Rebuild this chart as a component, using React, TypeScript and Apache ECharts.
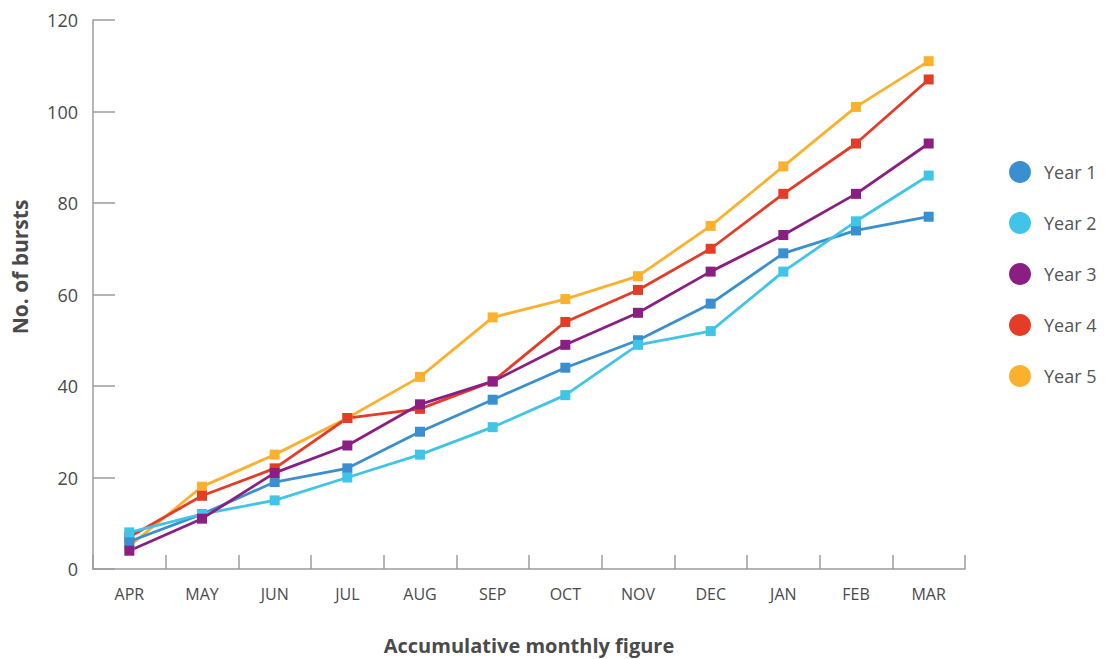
import React, { useEffect, useRef } from "react";
import * as echarts from "echarts";

const months = ["APR", "MAY", "JUN", "JUL", "AUG", "SEP", "OCT", "NOV", "DEC", "JAN", "FEB", "MAR"];

const year1 = [6, 12, 19, 22, 30, 37, 44, 50, 58, 69, 74, 77];
const year2 = [8, 12, 15, 20, 25, 31, 38, 49, 52, 65, 76, 86];
const year3 = [4, 11, 21, 27, 36, 41, 49, 56, 65, 73, 82, 93];
const year4 = [7, 16, 22, 33, 35, 41, 54, 61, 70, 82, 93, 107];
const year5 = [5, 18, 25, 33, 42, 55, 59, 64, 75, 88, 101, 111];

const seriesNames = ["Year 1", "Year 2", "Year 3", "Year 4", "Year 5"];
const seriesColors = ["#3a8fd0", "#40c4e8", "#8b1e82", "#e43c27", "#fbb12e"];

const yTicks = [0, 20, 40, 60, 80, 100, 120];

const FONT = "'Open Sans', 'Noto Sans', sans-serif";
const AXIS_GREY = "#9d9d9d";
const TEXT_GREY = "#4a4a4a";

export default function App() {
  const ref = useRef<HTMLDivElement>(null);

  useEffect(() => {
    if (!ref.current) return;
    const chart = echarts.init(ref.current, undefined, { renderer: "svg" });

    const values = [year1, year2, year3, year4, year5];
    // drawing order so that the purple and cyan lines sit on top where they cross
    const drawOrder = [4, 3, 0, 1, 2];
    const series = drawOrder.map((i) => ({
      name: seriesNames[i],
      type: "line" as const,
      data: values[i],
      symbol: "rect",
      symbolSize: 10,
      color: seriesColors[i],
      lineStyle: { width: 2.8, color: seriesColors[i] },
      itemStyle: { color: seriesColors[i] },
      emphasis: { disabled: true },
    }));

    chart.setOption({
      animation: false,
      textStyle: { fontFamily: FONT },
      grid: { left: 93, right: 147, top: 20, bottom: 90, containLabel: false, outerBoundsMode: "none" },
      legend: {
        orient: "vertical",
        left: 1004,
        top: 156,
        data: seriesNames.map((n) => ({ name: n, icon: "circle" })),
        itemWidth: 22,
        itemHeight: 22,
        itemGap: 29,
        textStyle: { fontSize: 18, color: "#555555", fontFamily: FONT, padding: [0, 0, 0, 8] },
        selectedMode: false,
      },
      xAxis: {
        type: "category",
        data: months,
        boundaryGap: true,
        name: "Accumulative monthly figure",
        nameLocation: "middle",
        nameGap: 66,
        nameTextStyle: { fontSize: 20, fontWeight: "bold", color: TEXT_GREY, fontFamily: FONT },
        axisLine: { show: true, lineStyle: { color: AXIS_GREY, width: 1.5 } },
        axisTick: { show: true, inside: true, length: 14, lineStyle: { color: AXIS_GREY, width: 1.5 } },
        axisLabel: { fontSize: 16, color: TEXT_GREY, margin: 17, fontFamily: FONT },
        splitLine: { show: false },
      },
      yAxis: {
        type: "value",
        min: yTicks[0],
        max: yTicks[yTicks.length - 1],
        interval: 20,
        axisLine: { show: true, lineStyle: { color: AXIS_GREY, width: 1.5 } },
        axisTick: { show: true, inside: true, length: 22, lineStyle: { color: AXIS_GREY, width: 1.5 } },
        axisLabel: { fontSize: 18, color: TEXT_GREY, margin: 15, fontFamily: FONT },
        splitLine: { show: false },
      },
      graphic: [
        {
          type: "text",
          x: 20,
          y: 267,
          rotation: Math.PI / 2,
          style: {
            text: "No. of bursts",
            fontSize: 21,
            fontWeight: "bold",
            fill: TEXT_GREY,
            fontFamily: FONT,
            align: "center",
            verticalAlign: "middle",
          },
        },
      ],
      series,
    });

    return () => chart.dispose();
  }, []);

  return (
    <div
      ref={ref}
      style={{ position: "fixed", left: 0, top: 0, width: 1112, height: 659, background: "#ffffff" }}
    />
  );
}
